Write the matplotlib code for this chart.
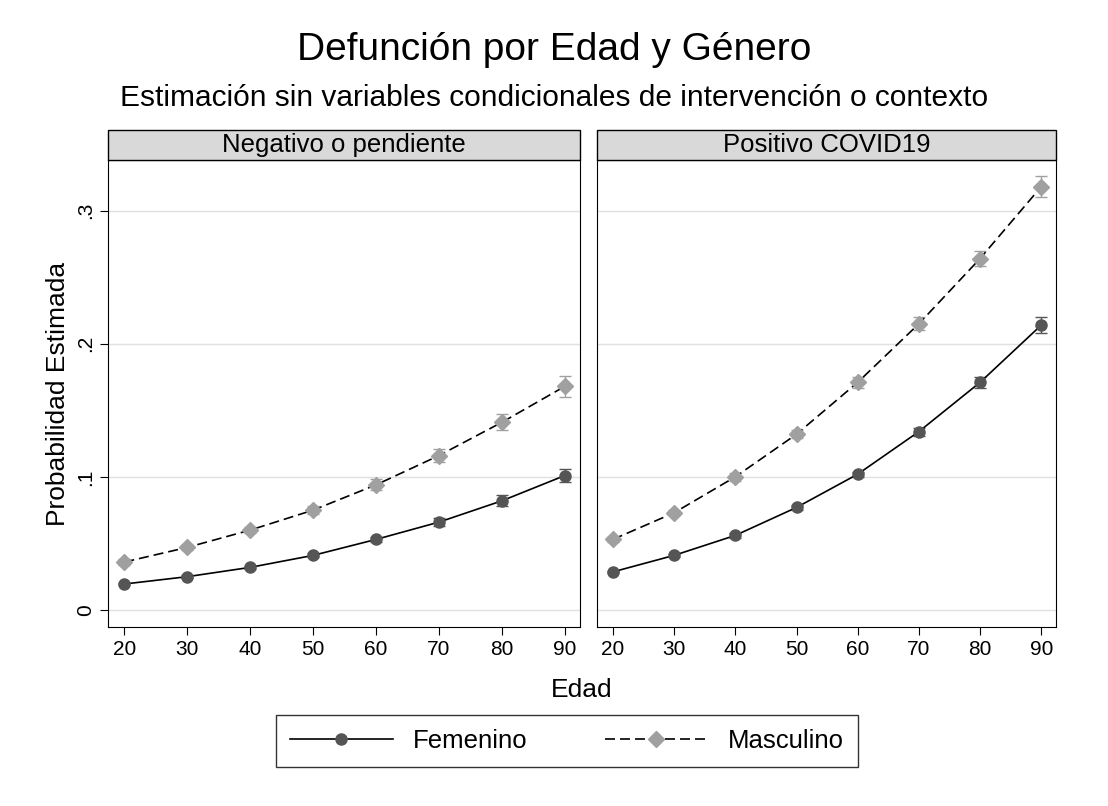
import numpy as np
import matplotlib.pyplot as plt
from matplotlib.patches import Rectangle

edad = [20, 30, 40, 50, 60, 70, 80, 90]
panels = ["Negativo o pendiente", "Positivo COVID19"]
fem_neg = [0.0195, 0.025, 0.032, 0.041, 0.053, 0.066, 0.082, 0.101]
masc_neg = [0.036, 0.047, 0.060, 0.075, 0.094, 0.116, 0.141, 0.168]
fem_pos = [0.0286, 0.041, 0.056, 0.077, 0.102, 0.134, 0.171, 0.214]
masc_pos = [0.053, 0.073, 0.100, 0.132, 0.171, 0.215, 0.264, 0.318]
err_fem_neg = [0.001, 0.001, 0.001, 0.0015, 0.002, 0.003, 0.004, 0.005]
err_masc_neg = [0.002, 0.002, 0.002, 0.003, 0.004, 0.005, 0.006, 0.008]
err_fem_pos = [0.001, 0.001, 0.002, 0.002, 0.002, 0.003, 0.004, 0.006]
err_masc_pos = [0.002, 0.002, 0.003, 0.003, 0.004, 0.005, 0.006, 0.008]

plt.rcParams['font.family'] = ['Liberation Sans', 'DejaVu Sans']
W, H = 1108, 806
fig = plt.figure(figsize=(W / 100, H / 100), dpi=100)

def rect(x0, x1, y0, y1):
    return [x0 / W, 1 - y1 / H, (x1 - x0) / W, (y1 - y0) / H]

data = [(fem_neg, masc_neg, err_fem_neg, err_masc_neg),
        (fem_pos, masc_pos, err_fem_pos, err_masc_pos)]
boxes = [(108, 580), (597, 1056)]
for i, (x0, x1) in enumerate(boxes):
    ax = fig.add_axes(rect(x0, x1, 160, 627))
    f, m, ef, em = data[i]
    for y in [0, 0.1, 0.2, 0.3]:
        ax.axhline(y, color='#e0e0e0', lw=1, zorder=0)
    ax.errorbar(edad, f, yerr=ef, fmt='none', ecolor='#555555', capsize=4, lw=1)
    ax.errorbar(edad, m, yerr=em, fmt='none', ecolor='#a0a0a0', capsize=4, lw=1)
    ax.plot(edad, f, '-', color='black', lw=1.2, marker='o', ms=8,
            mfc='#555555', mec='#555555', label='Femenino')
    ax.plot(edad, m, '--', color='black', lw=1.2, dashes=(6, 3), marker='D', ms=8,
            mfc='#a0a0a0', mec='#a0a0a0', label='Masculino')
    ax.set_xlim(17.4, 92.4)
    ax.set_ylim(-0.0128, 0.338)
    ax.set_xticks(edad)
    ax.set_yticks([0, 0.1, 0.2, 0.3])
    ax.tick_params(labelsize=15, direction='out', length=6)
    if i == 0:
        ax.set_yticklabels(['0', '.1', '.2', '.3'], rotation=90, va='center')
        ax.set_ylabel('Probabilidad Estimada', fontsize=19)
    else:
        ax.set_yticklabels([])
        ax.tick_params(axis='y', length=0)
    # strip header
    fig.add_artist(Rectangle((x0 / W, 1 - 160 / H), (x1 - x0) / W, 30 / H,
                             transform=fig.transFigure, fc='#d9d9d9', ec='black', lw=1))
    fig.text((x0 + x1) / 2 / W, 1 - 145 / H, panels[i], ha='center', va='center', fontsize=18.5)
    if i == 0:
        handles, labels = ax.get_legend_handles_labels()

fig.text(0.5, 1 - 50 / H, 'Defunción por Edad y Género', ha='center', va='center', fontsize=28)
fig.text(0.5, 1 - 98 / H, 'Estimación sin variables condicionales de intervención o contexto',
         ha='center', va='center', fontsize=21.5)
fig.text(582 / W, 1 - 690 / H, 'Edad', ha='center', va='center', fontsize=19)
leg = fig.legend(handles, labels, loc='center', bbox_to_anchor=(567 / W, 1 - 741 / H),
                 ncol=2, fontsize=18.5, frameon=True, fancybox=False, edgecolor='black',
                 handlelength=4, columnspacing=3, borderpad=0.55)
leg.get_frame().set_linewidth(1)
fig.savefig('out.png', dpi=100)
